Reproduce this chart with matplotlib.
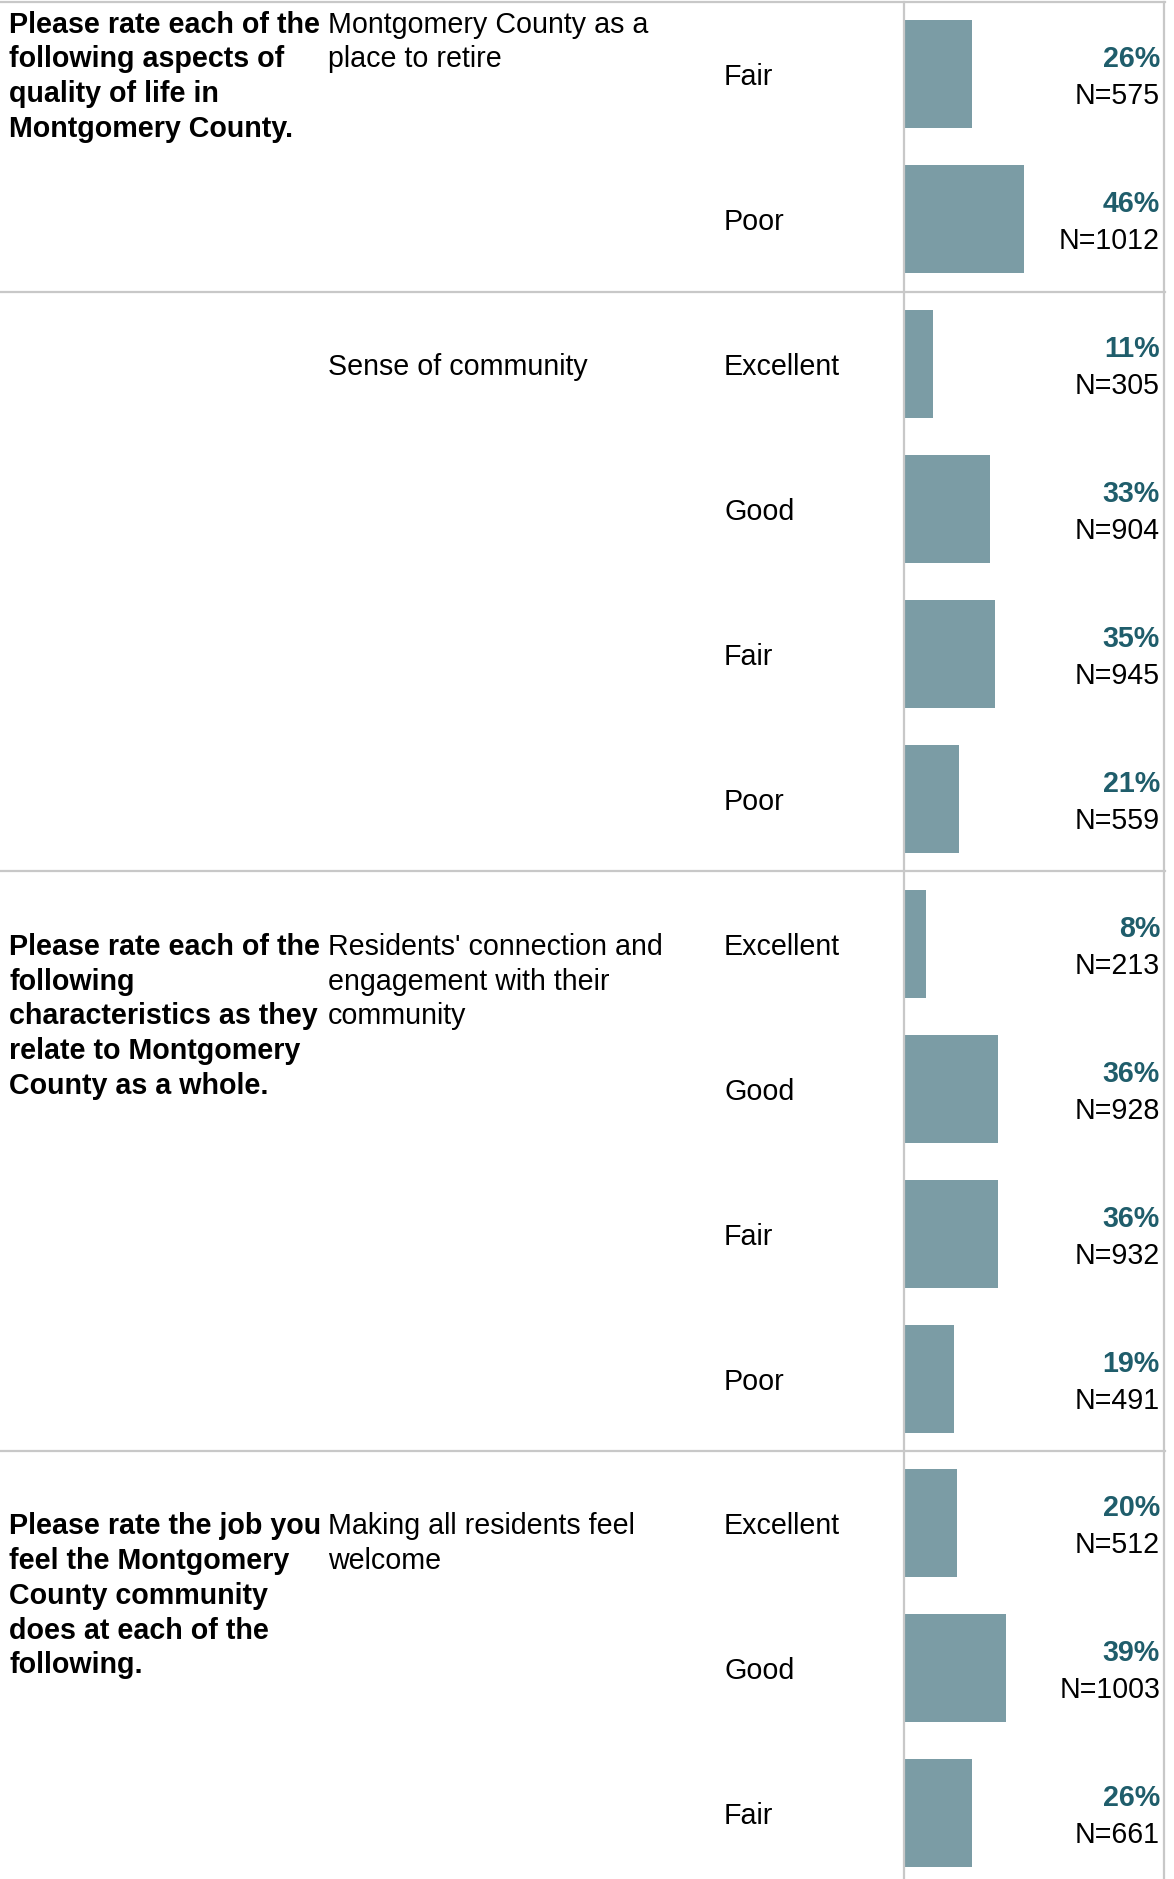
import numpy as np
import matplotlib.pyplot as plt
from matplotlib.lines import Line2D
from matplotlib.transforms import blended_transform_factory

plt.rcParams['font.family'] = ['Liberation Sans', 'DejaVu Sans']

# data
ratings = ['Fair', 'Poor',
           'Excellent', 'Good', 'Fair', 'Poor',
           'Excellent', 'Good', 'Fair', 'Poor',
           'Excellent', 'Good', 'Fair']
pcts = [26, 46, 11, 33, 35, 21, 8, 36, 36, 19, 20, 39, 26]
counts = [575, 1012, 305, 904, 945, 559, 213, 928, 932, 491, 512, 1003, 661]
section_sizes = [2, 4, 4, 3]
questions = [
    ['Please rate each of the', 'following aspects of', 'quality of life in', 'Montgomery County.'],
    [],
    ['Please rate each of the', 'following', 'characteristics as they',
     'relate to Montgomery', 'County as a whole.'],
    ['Please rate the job you', 'feel the Montgomery', 'County community',
     'does at each of the', 'following.'],
]
items = [
    ['Montgomery County as a', 'place to retire'],
    ['Sense of community'],
    ["Residents' connection and", 'engagement with their', 'community'],
    ['Making all residents feel', 'welcome'],
]

W, H = 1174, 1879
pitch = 144.9      # px per row
top = 2
bar_col = '#7b9ca5'
pct_col = '#1f5d6b'
grid_col = '#c8c8c8'
fs = 20.6
dy = 3 / pitch     # small downward nudge for text

fig = plt.figure(figsize=(W / 100, H / 100), dpi=100)
ax = fig.add_axes([904 / W, 0, 260 / W, 1])
ax.set_xlim(0, 260 / 2.58)
ax.set_ylim((H - top) / pitch, -top / pitch)
ax.axis('off')

n = len(pcts)
y = np.arange(n) + 0.5
ax.barh(y, pcts, height=108 / pitch, color=bar_col, left=0.4)

tr = blended_transform_factory(fig.transFigure, ax.transData)
line_step = 34.7 / pitch

for i in range(n):
    ax.text(724 / W, y[i] + dy, ratings[i], transform=tr, fontsize=fs, va='center', ha='left')
    ax.text(1160 / W, y[i] - 18 / pitch + dy, f'{pcts[i]}%', transform=tr, fontsize=fs,
            va='center', ha='right', color=pct_col, fontweight='bold')
    ax.text(1160 / W, y[i] + 19 / pitch + dy, f'N={counts[i]}', transform=tr, fontsize=fs,
            va='center', ha='right')

starts = np.concatenate([[0], np.cumsum(section_sizes)[:-1]])
ybot = (H - top) / pitch
for k, s in enumerate(starts):
    # first section continues from the previous page, text sits at the top
    y0 = s + (19.6 / pitch if k == 0 else 0.5) + dy
    for j, line in enumerate(questions[k]):
        ax.text(9 / W, y0 + j * line_step, line, transform=tr, fontsize=fs,
                fontweight='bold', va='center', ha='left')
    for j, line in enumerate(items[k]):
        ax.text(328 / W, y0 + j * line_step, line, transform=tr, fontsize=fs,
                va='center', ha='left')
    fig.add_artist(Line2D([0, 1165 / W], [s, s], transform=tr, color=grid_col, lw=1.6))

for xv in [904, 1164]:
    fig.add_artist(Line2D([xv / W, xv / W], [0, ybot + 1], transform=tr, color=grid_col, lw=1.6))

fig.savefig('out.png', dpi=100, facecolor='white')
